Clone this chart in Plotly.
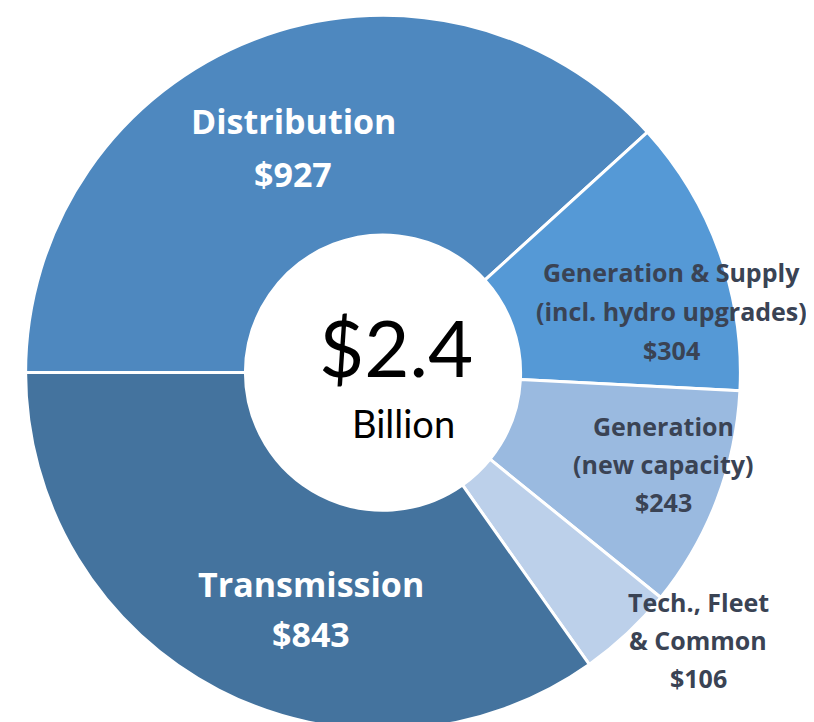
import plotly.graph_objects as go

# capital spend by category, $ millions
categories = ["Distribution", "Generation & Supply", "Generation (new capacity)",
              "Tech., Fleet & Common", "Transmission"]
values = [927, 304, 243, 106, 843]
label_lines = [
    ["Distribution"],
    ["Generation & Supply", "(incl. hydro upgrades)"],
    ["Generation", "(new capacity)"],
    ["Tech., Fleet", "& Common"],
    ["Transmission"],
]
total_text = "$2.4"
total_unit = "Billion"

colors = ["#4E88BF", "#5599D6", "#9ABAE0", "#BCD0EA", "#44739E"]
text_colors = ["white", "#3A4354", "#3A4354", "#3A4354", "white"]

W, H = 814, 722
DY = -9  # annotation middle sits a bit low

fig = go.Figure()

fig.add_trace(go.Pie(
    labels=categories,
    values=values,
    sort=False,
    direction="clockwise",
    rotation=-90,
    hole=0.385,
    textinfo="none",
    marker=dict(colors=colors, line=dict(color="white", width=3)),
    domain=dict(x=[17 / W, 733 / W], y=[0, 0.99]),
    showlegend=False,
))

# label placement (pixel centre of the first line, line spacing, font size)
label_pos = [
    (285, 122, 53, 34),
    (663, 273, 39, 25),
    (655, 427, 38, 25),
    (690, 603, 38, 25),
    (303, 585, 50, 34),
]

annotations = []
for lines, v, (px, py, step, size), tc in zip(label_lines, values, label_pos, text_colors):
    for i, line in enumerate(lines + [f"${v}"]):
        annotations.append(dict(
            x=px / W, y=1 - (py + i * step + DY) / H, xref="paper", yref="paper",
            xanchor="center", yanchor="middle",
            text=f"<b>{line}</b>", showarrow=False,
            font=dict(family="Open Sans", size=size, color=tc),
        ))

annotations.append(dict(
    x=388 / W, y=1 - (348 + DY) / H, xref="paper", yref="paper", text=total_text,
    xanchor="center", yanchor="middle",
    showarrow=False, font=dict(family="Lato", size=78, color="black"),
))
annotations.append(dict(
    x=395 / W, y=1 - (424 + DY) / H, xref="paper", yref="paper", text=total_unit,
    xanchor="center", yanchor="middle",
    showarrow=False, font=dict(family="Lato", size=38, color="black"),
))

fig.update_layout(
    width=W,
    height=H,
    margin=dict(l=0, r=0, t=0, b=0),
    paper_bgcolor="white",
    annotations=annotations,
)

fig.write_html("out.html")
